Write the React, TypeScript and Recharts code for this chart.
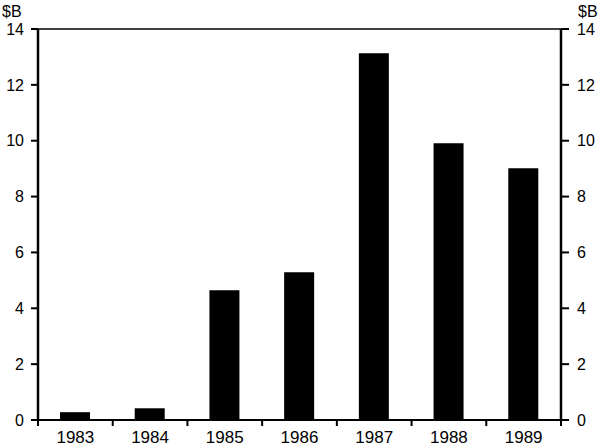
import { BarChart, Bar, Line, XAxis, YAxis, ReferenceLine } from "recharts";

const years = ["1983", "1984", "1985", "1986", "1987", "1988", "1989"];
const values = [0.28, 0.42, 4.65, 5.29, 13.13, 9.91, 9.01];
const yTicks = [0, 2, 4, 6, 8, 10, 12, 14];
const unitLabel = "$B";

const data = years.map((year, i) => ({ year, value: values[i] }));

const FONT = "'Liberation Sans', Arial, Helvetica, sans-serif";

// year label at band centre, tick marks at band edges
function YearTick(props: any) {
    const { x, y, payload, index } = props;
    const half = payload && payload.offset ? payload.offset : 0;
    return (
        <g>
            {index === 0 && <line x1={x - half} x2={x - half} y1={y} y2={y + 6} stroke="#000" strokeWidth={2} />}
            <line x1={x + half} x2={x + half} y1={y} y2={y + 6} stroke="#000" strokeWidth={2} />
            <text x={x} y={y + 23} textAnchor="middle" fontSize={17} fill="#000" fontFamily={FONT}>
                {payload.value}
            </text>
        </g>
    );
}

const unitText = (side: "left" | "right") => (p: any) => {
    const vb = p.viewBox || {};
    const x = side === "left" ? vb.x + 2 : vb.x + 17;
    return (
        <text x={x} y={vb.y - 12} fontSize={16} fill="#000" fontFamily={FONT}>
            {unitLabel}
        </text>
    );
};

export default function App() {
    return (
        <div style={{ position: "absolute", left: 0, top: 0, background: "#fff" }}>
            <BarChart
                width={600}
                height={446}
                data={data}
                margin={{ top: 29, right: 0, left: 0, bottom: 0 }}
                style={{ fontFamily: FONT }}
            >
                <XAxis
                    dataKey="year"
                    height={26}
                    tickSize={0}
                    tickMargin={0}
                    tickLine={false}
                    axisLine={{ stroke: "#000", strokeWidth: 2 }}
                    tick={<YearTick />}
                    interval={0}
                />
                <YAxis
                    yAxisId="left"
                    orientation="left"
                    width={38}
                    domain={[0, 14]}
                    ticks={yTicks}
                    tickSize={7}
                    tickMargin={7}
                    tick={{ fontSize: 16, fill: "#000", fontFamily: FONT }}
                    tickLine={{ stroke: "#000", strokeWidth: 2 }}
                    axisLine={{ stroke: "#000", strokeWidth: 2.5 }}
                    label={{ content: unitText("left") }}
                />
                <YAxis
                    yAxisId="right"
                    orientation="right"
                    width={39}
                    domain={[0, 14]}
                    ticks={yTicks}
                    tickSize={8}
                    tickMargin={8}
                    tick={{ fontSize: 16, fill: "#000", fontFamily: FONT, textAnchor: "start" }}
                    tickLine={{ stroke: "#000", strokeWidth: 2 }}
                    axisLine={{ stroke: "#000", strokeWidth: 2.5 }}
                    label={{ content: unitText("right") }}
                />
                <ReferenceLine yAxisId="left" y={14} stroke="#000" strokeWidth={1.5} />
                <Bar yAxisId="left" dataKey="value" fill="#000" barSize={30} isAnimationActive={false} />
                {/* invisible series so the right axis gets a scale */}
                <Line yAxisId="right" dataKey="value" stroke="none" dot={false} activeDot={false} legendType="none" isAnimationActive={false} />
            </BarChart>
        </div>
    );
}
